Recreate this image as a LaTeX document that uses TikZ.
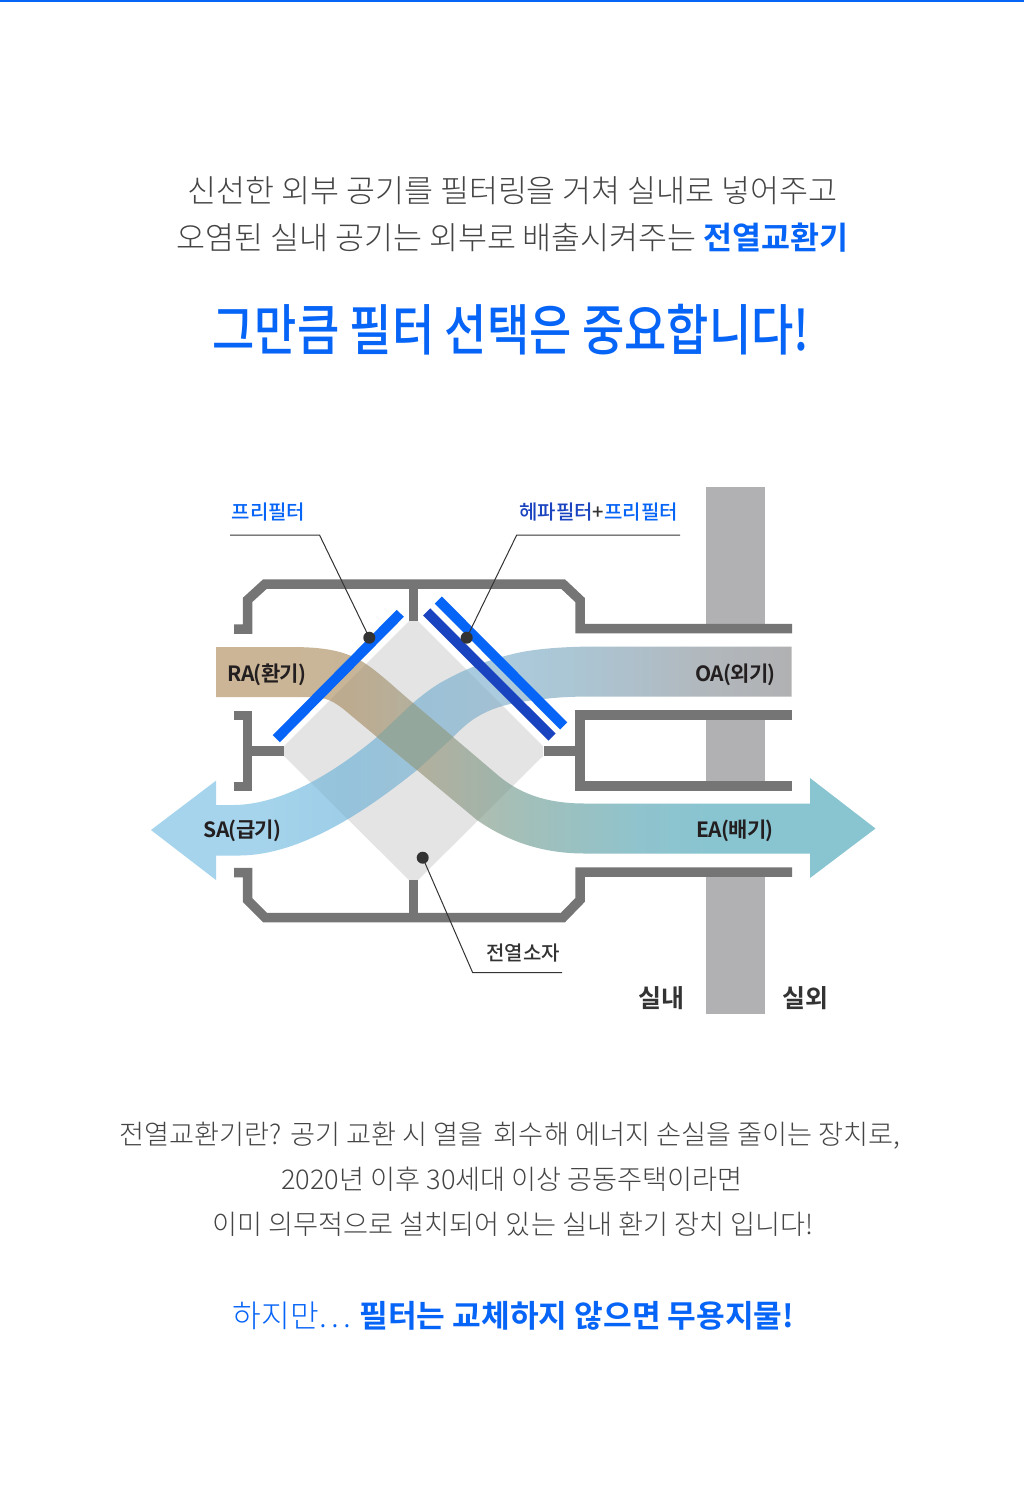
\documentclass[tikz,border=0pt]{standalone}
\usepackage{fontspec}
\usetikzlibrary{calc}
\setmainfont{Noto Sans CJK KR}
\newfontfamily\krl{Noto Sans CJK KR Light}
\newfontfamily\krm{Noto Sans CJK KR Medium}
\newfontfamily\krb{Noto Sans CJK KR Bold}
\newfontfamily\krbt[LetterSpace=-3]{Noto Sans CJK KR Bold}
\definecolor{brandblue}{HTML}{0664F7}
\definecolor{darkblue}{HTML}{1A43BF}
\definecolor{ductgray}{HTML}{757575}
\definecolor{wallgray}{HTML}{B1B1B3}
\definecolor{coregray}{HTML}{E4E4E4}
\definecolor{overlapc}{HTML}{94A79C}
\definecolor{inktext}{HTML}{231F20}
\definecolor{leadgray}{HTML}{333333}
\definecolor{bodygray}{HTML}{444444}
\definecolor{ra}{HTML}{CCB596}
\definecolor{rb}{HTML}{C8B598}
\definecolor{rbb}{HTML}{C3B8A0}
\definecolor{rc}{HTML}{B3BCAE}
\definecolor{rcc}{HTML}{A3BFB8}
\definecolor{rd}{HTML}{8FC3CD}
\definecolor{re}{HTML}{88C5D1}
\definecolor{oa}{HTML}{A5D4EC}
\definecolor{oab}{HTML}{9ECEE8}
\definecolor{ob}{HTML}{ABCBDE}
\definecolor{obb}{HTML}{ABC6D4}
\definecolor{obc}{HTML}{AEBFCA}
\definecolor{obd}{HTML}{B1B8BD}
\definecolor{oc}{HTML}{B1B1B3}
\pgfdeclarehorizontalshading{rashade}{100bp}{color(0bp)=(ra);color(25bp)=(ra);color(35.2bp)=(rb);color(38bp)=(rbb);color(43.5bp)=(rc);color(48bp)=(rcc);color(57.1bp)=(rd);color(63.2bp)=(re);color(100bp)=(re)}
\pgfdeclarehorizontalshading{oashade}{100bp}{color(0bp)=(oa);color(33bp)=(oa);color(40bp)=(oab);color(52bp)=(ob);color(57.7bp)=(obb);color(63bp)=(obc);color(68bp)=(obd);color(75bp)=(oc);color(100bp)=(oc)}
\def\oapath{(791.5,646.5) -- (600,646.5) .. controls (570,646.5) and (540,648) .. (517,653)
 .. controls (495,658) and (470,666) .. (440,683) .. controls (430,689) and (420,697) .. (413,703)
 -- (377,737) .. controls (340,768) and (285,805) .. (233,805) -- (216,805)
 -- (216,780.7) -- (151,830) -- (216,880) -- (216,855.5) -- (240,855.5)
 .. controls (300,855) and (365,812) .. (417,770) -- (453,737)
 .. controls (462,728) and (470,721) .. (477,717) .. controls (495,706) and (515,702) .. (540,699.5)
 .. controls (560,697) and (570,696.5) .. (600,696.5) -- (791.5,696.5) -- cycle}
\def\rapath{(216,647) -- (290,647) .. controls (325,647) and (345,651) .. (363,662)
 .. controls (380,673) and (395,688) .. (413,703) -- (453,737) -- (500,777)
 .. controls (520,793) and (545,803.5) .. (585,803.5) -- (810,803.5) -- (810,778) -- (875.5,828.5)
 -- (810,878) -- (810,853.5) -- (585,853.5) .. controls (545,853.5) and (510,843) .. (477,820)
 -- (417,770) -- (377,737) -- (347,712) .. controls (335,702) and (327,697) .. (310,697) -- (216,697) -- cycle}
\def\corepath{(409,621) -- (418,621) -- (543,746) -- (543,756) -- (418,880) -- (409,880) -- (284,756) -- (284,746) -- cycle}
\tikzset{
  duct/.style={draw=ductgray,line width=9.5pt,miter limit=10,line cap=butt},
  filterbar/.style={line width=10pt,line cap=butt},
  leader/.style={draw=leadgray,line width=1pt},
  leaddot/.style={fill=leadgray,circle,inner sep=0,minimum size=12pt},
  txt/.style={inner sep=0,anchor=base},
  head/.style={txt,font=\fontsize{31.5}{36}\krl,text=bodygray},
  bodyline/.style={txt,font=\fontsize{27.2}{32}\krl,text=bodygray},
  tag/.style={txt,font=\fontsize{20}{24}\krm},
  flowtag/.style={txt,font=\fontsize{21}{24}\krbt,text=inktext},
  room/.style={txt,font=\fontsize{25}{28}\krb,text=leadgray},
}
\begin{document}
\begin{tikzpicture}[x=1pt,y=-1pt]
\useasboundingbox (0,0) rectangle (1024,1500);
\fill[white] (0,0) rectangle (1024,1500);
\fill[brandblue] (0,0) rectangle (1024,1.5);

% texts at top
\node[head] (h1) at (512.5,202.5) {신선한 외부 공기를 필터링을 거쳐 실내로 넣어주고};
\node[head] (h2) at (512.5,249.5) {오염된 실내 공기는 외부로 배출시켜주는 {\krb\color{brandblue}전열교환기}};
\node[txt,font=\fontsize{46}{50}\krm,text=brandblue] (slogan) at (511,350) {\scalebox{1}[1.2]{그만큼 필터 선택은 중요합니다!}};

% wall
\fill[wallgray] (706,487) rectangle (765,626);
\fill[wallgray] (706,718) rectangle (765,783);
\fill[wallgray] (706,875) rectangle (765,1013.5);

% heat exchange core
\fill[coregray] \corepath;

% streams
\shade[shading=oashade] \oapath;
\shade[shading=rashade] \rapath;
\begin{scope}
  \clip \corepath;
  \fill[black,fill opacity=0.05] \oapath;
  \fill[black,fill opacity=0.05] \rapath;
\end{scope}
\begin{scope}
  \clip \oapath;
  \clip \rapath;
  \fill[overlapc] (360,690) rectangle (470,785);
\end{scope}

% ducts
\draw[duct] (234,629) -- (247.5,629) -- (247.5,600) -- (265,584) -- (563,584) -- (580,600) -- (580,628.7) -- (792,628.7);
\draw[duct] (413.3,584) -- (413.3,621);
\draw[duct] (234,715.7) -- (247.5,715.7) -- (247.5,786.7) -- (234,786.7);
\draw[duct] (247.5,751) -- (284,751);
\draw[duct] (792,715) -- (580,715) -- (580,786) -- (792,786);
\draw[duct] (544,751) -- (580,751);
\draw[duct] (234,872.7) -- (247.5,872.7) -- (247.5,900) -- (265,917.5) -- (563,917.5) -- (580,900) -- (580,872) -- (792,872);
\draw[duct] (413.3,880) -- (413.3,917.5);

% filters
\draw[filterbar,brandblue] (400.3,613.3) -- (276.3,738.7);
\draw[filterbar,brandblue] (438.3,600) -- (563.7,726);
\draw[filterbar,darkblue] (426.7,612) -- (552,737);

% leader dots and ends
\node[leaddot] (d1) at (369.3,637.7) {};
\node[leaddot] (d2) at (466.7,637.7) {};
\node[leaddot] (d3) at (422.7,857.7) {};
\coordinate (l1a) at (230,535);
\coordinate (l1b) at (319.5,535);
\coordinate (l2a) at (680,535);
\coordinate (l2b) at (516.7,535);
\coordinate (l3a) at (562,972.7);
\coordinate (l3b) at (472.7,972.7);
\draw[leader] (l1a) -- (l1b) -- (d1.center);
\draw[leader] (l2a) -- (l2b) -- (d2.center);
\draw[leader] (l3a) -- (l3b) -- (d3.center);

% labels
\node[tag,text=brandblue] (t1) at (268.5,519) {프리필터};
\node[tag] (t2) at (598.5,519) {{\color{darkblue}헤파필터}{\color{leadgray}+}{\color{brandblue}프리필터}};
\node[tag,text=leadgray] (t3) at (523,960.5) {전열소자};
\node[flowtag] (ra) at (267,681) {RA(환기)};
\node[flowtag] (oa) at (735.5,681) {OA(외기)};
\node[flowtag] (sa) at (242.5,837) {SA(급기)};
\node[flowtag] (ea) at (735,837) {EA(배기)};
\node[room] (r1) at (661,1007) {실내};
\node[room] (r2) at (805.5,1007) {실외};

% body
\node[bodyline] (b1) at (510,1144.5) {전열교환기란? 공기 교환 시 열을\, 회수해 에너지 손실을 줄이는 장치로,};
\node[bodyline] (b2) at (512,1189.5) {2020년 이후 30세대 이상 공동주택이라면};
\node[bodyline] (b3) at (513,1234.5) {이미 의무적으로 설치되어 있는 실내 환기 장치 입니다!};
\node[txt,font=\fontsize{31.2}{36}\krl,text=brandblue] (last) at (513.5,1327) {하지만\kern1pt.\kern4pt.\kern4pt.\kern-1pt{} {\krb 필터는 교체하지 않으면 무용지물!}};
\end{tikzpicture}
\end{document}
